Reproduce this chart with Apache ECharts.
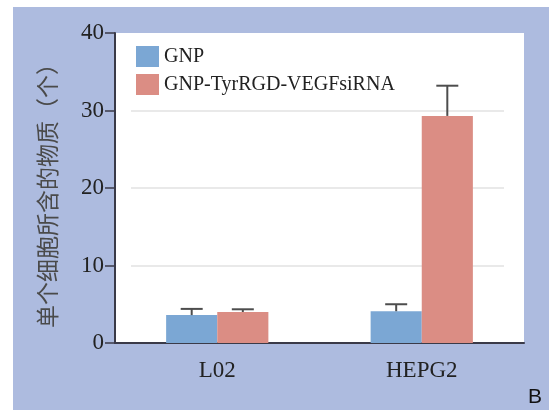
<!DOCTYPE html>
<html>
<head>
<meta charset="utf-8">
<script src="https://cdn.jsdelivr.net/npm/echarts@6/dist/echarts.min.js"></script>
<style>
html,body{margin:0;padding:0;background:#fff;}
#chart{width:549px;height:410px;}
</style>
</head>
<body>
<div id="chart"></div>
<script>
const categories = ['L02', 'HEPG2'];
const seriesNames = ['GNP', 'GNP-TyrRGD-VEGFsiRNA'];
const gnpValues = [3.6, 4.1];
const gnpErrors = [0.8, 0.9];
const tyrValues = [4.0, 29.3];
const tyrErrors = [0.35, 3.9];
const yTicks = [0, 10, 20, 30, 40];
const yAxisTitle = '单个细胞所含的物质（个）';

const colors = ['#7ba7d4', '#db8d84'];
const serif = 'Liberation Serif';
const barFrac = 0.25;

function errSeries(values, errors, side) {
  return {
    type: 'custom',
    name: 'err' + side,
    xAxisIndex: 0, yAxisIndex: 0,
    z: 5,
    data: values.map((v, i) => [i, v, v + errors[i]]),
    renderItem: function (params, api) {
      const c = api.value(0);
      const p0 = api.coord([c, api.value(1)]);
      const p1 = api.coord([c, api.value(2)]);
      const bw = api.size([1, 0])[0] * barFrac;
      const x = p0[0] + side * bw / 2;
      const cap = 11;
      const st = { stroke: '#4d4d4d', lineWidth: 2 };
      return {
        type: 'group',
        children: [
          { type: 'line', shape: { x1: x, y1: p0[1], x2: x, y2: p1[1] }, style: st },
          { type: 'line', shape: { x1: x - cap, y1: p1[1], x2: x + cap, y2: p1[1] }, style: st }
        ]
      };
    }
  };
}

const chart = echarts.init(document.getElementById('chart'));
chart.setOption({
  animation: false,
  backgroundColor: '#fff',
  graphic: [
    { type: 'rect', z: -10, silent: true, shape: { x: 13, y: 7, width: 540, height: 410 }, style: { fill: '#adbbdf' } },
    { type: 'text', z: 10, left: 528, top: 387, style: { text: 'B', font: '21px "Liberation Sans"', fill: '#111' } }
  ],
  grid: [
    { left: 115, right: 25, top: 33, bottom: 67, show: true, backgroundColor: '#fff', borderWidth: 0 },
    { left: 131, right: 45, top: 33, bottom: 67 }
  ],
  legend: {
    data: seriesNames,
    orient: 'vertical',
    left: 131, top: 41,
    itemWidth: 23, itemHeight: 21, itemGap: 7,
    icon: 'rect',
    textStyle: { fontFamily: serif, fontSize: 20, color: '#222', padding: [0, 0, 0, 0] }
  },
  xAxis: [
    {
      type: 'category', gridIndex: 0, data: categories,
      axisLine: { lineStyle: { color: '#3a3a48', width: 2 } },
      axisTick: { alignWithLabel: true, length: 9, lineStyle: { color: '#3a3a48', width: 2 } },
      axisLabel: { fontFamily: serif, fontSize: 23, color: '#222', margin: 16 }
    },
    { type: 'value', gridIndex: 1, show: false }
  ],
  yAxis: [
    {
      type: 'value', gridIndex: 0, min: yTicks[0], max: yTicks[yTicks.length - 1], interval: 10,
      axisLine: { show: true, lineStyle: { color: '#3a3a48', width: 2 } },
      axisTick: { show: true, length: 10, lineStyle: { color: '#3a3a48', width: 1.5 } },
      axisLabel: { fontFamily: serif, fontSize: 23, color: '#222', margin: 11 },
      splitLine: { show: false },
      name: yAxisTitle,
      nameLocation: 'middle',
      nameGap: 56,
      nameTextStyle: { fontFamily: 'Noto Sans CJK SC', fontSize: 23, color: '#4a4a4a', padding: [0, 4, 0, 0] }
    },
    {
      type: 'value', gridIndex: 1, min: yTicks[0], max: yTicks[yTicks.length - 1], interval: 10,
      axisLine: { show: false }, axisTick: { show: false }, axisLabel: { show: false },
      splitLine: { show: true, lineStyle: { color: ['rgba(0,0,0,0)', '#e2e2e2', '#e2e2e2', '#e2e2e2', 'rgba(0,0,0,0)'], width: 1.5 } }
    }
  ],
  series: [
    { type: 'bar', name: seriesNames[0], data: gnpValues, barWidth: '25%', barGap: '0%', itemStyle: { color: colors[0] }, z: 3 },
    { type: 'bar', name: seriesNames[1], data: tyrValues, barWidth: '25%', barGap: '0%', itemStyle: { color: colors[1] }, z: 3 },
    errSeries(gnpValues, gnpErrors, -1),
    errSeries(tyrValues, tyrErrors, 1)
  ]
});
</script>
</body>
</html>
